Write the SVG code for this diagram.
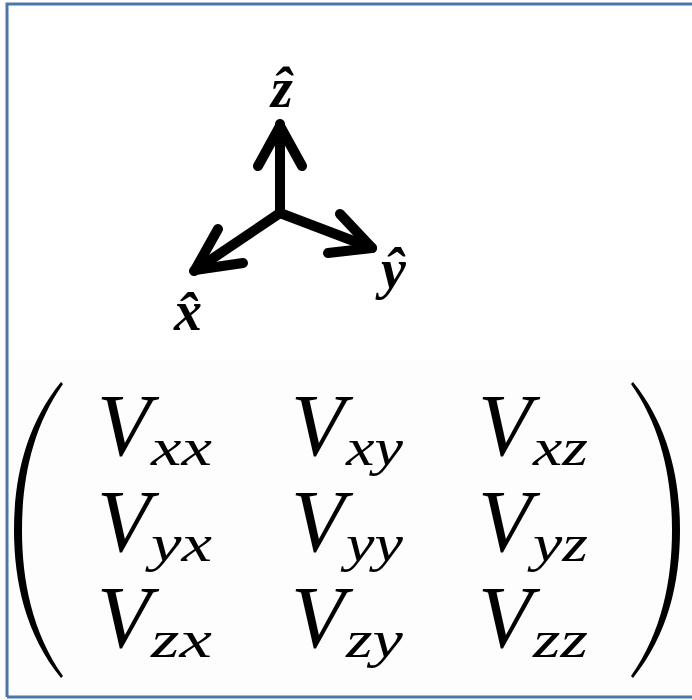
<svg xmlns="http://www.w3.org/2000/svg" width="692" height="700" viewBox="0 0 692 700">
<style>
.ax{stroke:#000;stroke-width:10;stroke-linecap:round;stroke-linejoin:round;fill:none}
.lab{font-family:"Liberation Serif","DejaVu Serif",serif;font-weight:bold;font-style:italic;font-size:56px;fill:#000}
.V{font-family:"Liberation Serif",serif;font-style:italic;font-size:88px;fill:#000}
.s{font-family:"Liberation Serif",serif;font-style:italic;font-size:52px;fill:#000}
.par{fill:#000}
</style>
<rect x="0" y="0" width="692" height="700" fill="#ffffff"/>
<rect x="8" y="360" width="684" height="336" fill="#fdfdfd"/>
<g id="frame" stroke="#4a76a8" stroke-width="3" fill="none">
<path d="M7,697 L7,4 L692,4"/>
<path d="M7,697 L692,697"/>
</g>
<g id="connectors">
<path class="ax" d="M280,213 L280,124"/>
<path class="ax" d="M258,166 L280,126 L302,166"/>
<path class="ax" d="M280,213 L194,271"/>
<path class="ax" d="M218,229 L195,270 L243,263"/>
<path class="ax" d="M280,213 L372,248"/>
<path class="ax" d="M340,214 L372,248 L328,253"/>
</g>
<g id="z-label"><text class="lab" x="271" y="107">ẑ</text></g>
<g id="x-label"><text class="lab" x="174" y="330">x̂</text></g>
<g id="y-label"><text class="lab" x="381" y="288">ŷ</text></g>
<g id="matrix">
<path class="par" d="M61,382 C26,425 14,478 14,530 C14,582 26,635 61,678 L63,676 C32,632 22,580 22,530 C22,480 32,428 63,384 Z"/>
<path class="par" d="M633,382 C668,425 680,478 680,530 C680,582 668,635 633,678 L631,676 C662,632 672,580 672,530 C672,480 662,428 631,384 Z"/>
<text class="V" x="97" y="455">V</text><text class="s" x="151" y="465" textLength="61" lengthAdjust="spacingAndGlyphs">xx</text>
<text class="V" x="291" y="455">V</text><text class="s" x="346" y="465" textLength="57" lengthAdjust="spacingAndGlyphs">xy</text>
<text class="V" x="478" y="455">V</text><text class="s" x="533" y="465" textLength="55" lengthAdjust="spacingAndGlyphs">xz</text>
<text class="V" x="97" y="551">V</text><text class="s" x="151" y="561" textLength="61" lengthAdjust="spacingAndGlyphs">yx</text>
<text class="V" x="291" y="551">V</text><text class="s" x="346" y="561" textLength="57" lengthAdjust="spacingAndGlyphs">yy</text>
<text class="V" x="478" y="551">V</text><text class="s" x="533" y="561" textLength="55" lengthAdjust="spacingAndGlyphs">yz</text>
<text class="V" x="97" y="647">V</text><text class="s" x="151" y="657" textLength="61" lengthAdjust="spacingAndGlyphs">zx</text>
<text class="V" x="291" y="647">V</text><text class="s" x="346" y="657" textLength="57" lengthAdjust="spacingAndGlyphs">zy</text>
<text class="V" x="478" y="647">V</text><text class="s" x="533" y="657" textLength="55" lengthAdjust="spacingAndGlyphs">zz</text>
</g>
</svg>
